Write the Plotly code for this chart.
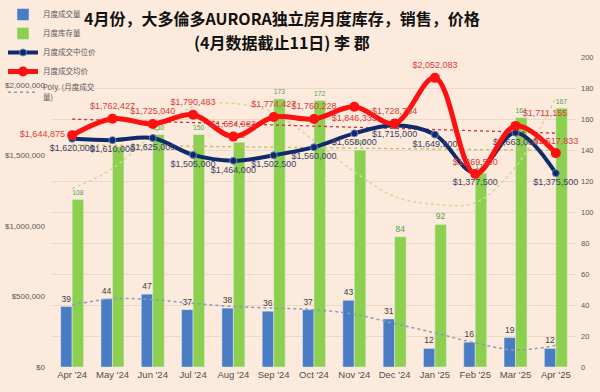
import plotly.graph_objects as go

months = ["Apr '24", "May '24", "Jun '24", "Jul '24", "Aug '24", "Sep '24", "Oct '24",
          "Nov '24", "Dec '24", "Jan '25", "Feb '25", "Mar '25", "Apr '25"]
sales_volume = [39, 44, 47, 37, 38, 36, 37, 43, 31, 12, 16, 19, 12]
inventory = [108, 142, 150, 150, 145, 173, 172, 140, 84, 92, 125, 161, 167]
median_price = [1620000, 1610000, 1625000, 1505000, 1464000, 1502500, 1560000,
                1658000, 1715000, 1649500, 1377500, 1663000, 1375500]
avg_price = [1644875, 1762427, 1725040, 1790483, 1634983, 1774427, 1760228,
             1846333, 1728784, 2052083, 1369500, 1711155, 1517833]
# trend lines
volume_trend = [40, 44, 43.5, 41, 39, 38, 37, 34, 28, 22, 15.5, 11, 14]
inventory_trend = [115, 128, 150, 168, 170, 164, 146, 126, 110, 105, 106, 129, 174]
avg_trend_ends = [1759000, 1660000]
median_trend_ends = [1576000, 1537000]

left_ticks = [0, 500000, 1000000, 1500000, 2000000]

BG = "rgb(252,234,220)"
FONT = "Liberation Sans, Arial, Noto Sans CJK SC, sans-serif"
CJK = "Noto Sans CJK SC, sans-serif"

x = list(range(len(months)))
ends_x = [x[0], x[-1]]

def money(v):
    return "${:,}".format(v)

fig = go.Figure()

fig.add_trace(go.Bar(
    x=x, y=sales_volume, name="月度成交量", yaxis="y",
    marker=dict(color="#4A7CC4"), text=sales_volume, textposition="outside",
    textfont=dict(size=8.5, color="#404040"), cliponaxis=False, legendrank=1))
fig.add_trace(go.Bar(
    x=x, y=inventory, name="月度库存量", yaxis="y",
    marker=dict(color="#8DCF4E"), text=inventory, textposition="outside",
    textfont=dict(size=8.5, color="#4CA64C"), cliponaxis=False, legendrank=2))

fig.add_trace(go.Scatter(
    x=x, y=volume_trend, name="Poly. (月度成交<br>量)", yaxis="y", mode="lines",
    line=dict(color="#8C9CB8", width=1.5, dash="dot", shape="spline"), legendrank=5))
fig.add_trace(go.Scatter(
    x=x, y=inventory_trend, name="Poly. (月度库存量)", yaxis="y", mode="lines",
    line=dict(color="#D8D49A", width=1.5, dash="dot", shape="spline"), showlegend=False))
fig.add_trace(go.Scatter(
    x=ends_x, y=median_trend_ends, name="Linear (月度成交中位价)", yaxis="y2", mode="lines",
    line=dict(color="#C8B860", width=1.3, dash="dot"), showlegend=False))
fig.add_trace(go.Scatter(
    x=ends_x, y=avg_trend_ends, name="Linear (月度成交均价)", yaxis="y2", mode="lines",
    line=dict(color="#D83030", width=1.3, dash="dot"), showlegend=False))

fig.add_trace(go.Scatter(
    x=x, y=median_price, name="月度成交中位价", yaxis="y2", mode="lines+markers+text",
    line=dict(color="#0E2A6A", width=4, shape="spline"),
    marker=dict(size=7, color="#0E2A6A", line=dict(color="#6A86C0", width=1)),
    text=[money(v) for v in median_price], textposition="bottom center",
    textfont=dict(size=9, color="#3C4262"), cliponaxis=False, legendrank=3))

avg_pos = ["middle left"] + ["top center"] * 6 + ["bottom center", "top center", "top center",
                                                  "top center", "top right", "top center"]
fig.add_trace(go.Scatter(
    x=x, y=avg_price, name="月度成交均价", yaxis="y2", mode="lines+markers+text",
    line=dict(color="#FF1010", width=5, shape="spline"),
    marker=dict(size=10, color="#FF1010"),
    text=[money(v) for v in avg_price], textposition=avg_pos,
    textfont=dict(size=9, color="#E03A3A"), cliponaxis=False, legendrank=4))

fig.update_layout(
    width=600, height=392,
    margin=dict(l=52, r=24, t=57, b=25, autoexpand=False),
    paper_bgcolor=BG, plot_bgcolor=BG,
    font=dict(family=FONT, color="#595959"),
    barmode="group", bargap=0.43, bargroupgap=0,
    showlegend=True,
    legend=dict(xref="container", yref="container", x=0.005, y=1.01,
                xanchor="left", yanchor="top",
                bgcolor="rgba(0,0,0,0)", font=dict(size=7.5, family=CJK, color="#595959"),
                traceorder="normal", itemwidth=30),
    xaxis=dict(tickmode="array", tickvals=x, ticktext=months, range=[-0.5, 12.5],
               showgrid=False, zeroline=False, showline=False, ticks="",
               tickfont=dict(size=9.5, color="#505050")),
    yaxis=dict(side="right", range=[0, 200], dtick=20, showgrid=True,
               gridcolor="rgba(210,180,160,0.35)", gridwidth=1, zeroline=False,
               tickfont=dict(size=7.5, color="#595959"), ticks="", ticklabelstandoff=4),
    yaxis2=dict(side="left", overlaying="y", range=[0, 2200000],
                tickmode="array", tickvals=left_ticks, ticktext=[money(v) for v in left_ticks],
                showgrid=False, zeroline=False, ticks="", ticklabelstandoff=6,
                tickfont=dict(size=8, color="#595959")),
    annotations=[
        dict(text="<b>4月份，大多倫多AURORA独立房月度库存，销售，价格</b>", xref="paper", yref="paper",
             x=0.439, y=1.126, xanchor="center", yanchor="middle", showarrow=False,
             font=dict(size=16, family=CJK, color="#111111")),
        dict(text="<b>(4月数据截止11日) 李 郡</b>", xref="paper", yref="paper",
             x=0.439, y=1.048, xanchor="center", yanchor="middle", showarrow=False,
             font=dict(size=16, family=CJK, color="#111111")),
    ],
)

fig.write_html("out.html", config={"displayModeBar": False},
               post_script="document.body.style.margin='0';document.body.style.overflow='hidden';")
